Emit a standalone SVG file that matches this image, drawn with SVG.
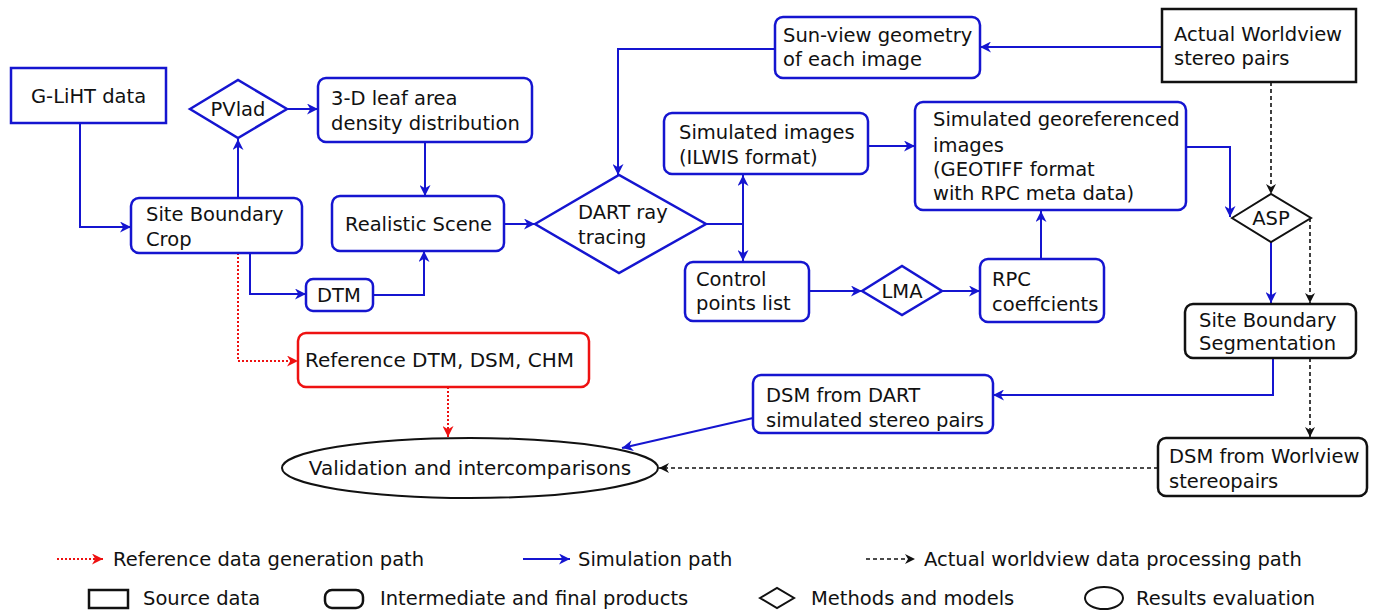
<svg xmlns="http://www.w3.org/2000/svg" width="1378" height="613" viewBox="0 0 1378 613">
<defs>
<style>
.t{font-family:"DejaVu Sans","Liberation Sans",sans-serif;font-size:19.5px;fill:#111}
.c{font-family:"DejaVu Sans","Liberation Sans",sans-serif;font-size:20px;fill:#111}
.g{font-family:"DejaVu Sans","Liberation Sans",sans-serif;font-size:19.5px;fill:#111}
.bb{fill:#fff;stroke:#1515d0;stroke-width:2.5}
.kb{fill:#fff;stroke:#111;stroke-width:2.5}
.rb{fill:#fff;stroke:#ee1111;stroke-width:2.5}
.bl{fill:none;stroke:#1515d0;stroke-width:2}
.kl{fill:none;stroke:#111;stroke-width:1.6;stroke-dasharray:4,3}
.rl{fill:none;stroke:#ee1111;stroke-width:2;stroke-dasharray:2,2}
</style>
<marker id="ab" viewBox="0 0 10 10" refX="10" refY="5" markerWidth="11" markerHeight="11" markerUnits="userSpaceOnUse" orient="auto"><path d="M0,0 L10,5 L0,10 L3,5 z" fill="#1515d0"/></marker>
<marker id="ak" viewBox="0 0 10 10" refX="10" refY="5" markerWidth="10" markerHeight="10" markerUnits="userSpaceOnUse" orient="auto"><path d="M0,0 L10,5 L0,10 L3,5 z" fill="#111"/></marker>
<marker id="ar" viewBox="0 0 10 10" refX="10" refY="5" markerWidth="11" markerHeight="11" markerUnits="userSpaceOnUse" orient="auto"><path d="M0,0 L10,5 L0,10 L3,5 z" fill="#ee1111"/></marker>
</defs>

<g id="connectors">
<path class="bl" d="M80,123 V227 H131" marker-end="url(#ab)"/>
<path class="bl" d="M238,198 V139" marker-end="url(#ab)"/>
<path class="bl" d="M287,109 H318" marker-end="url(#ab)"/>
<path class="bl" d="M425,142 V196" marker-end="url(#ab)"/>
<path class="bl" d="M250,253 V294 H306" marker-end="url(#ab)"/>
<path class="bl" d="M373,295 H424 V251" marker-end="url(#ab)"/>
<path class="bl" d="M504,224 H535" marker-end="url(#ab)"/>
<path class="bl" d="M775,49 H618 V175" marker-end="url(#ab)"/>
<path class="bl" d="M1162,47 H980" marker-end="url(#ab)"/>
<path class="bl" d="M706,224 H743"/>
<path class="bl" d="M743,224 V175" marker-end="url(#ab)"/>
<path class="bl" d="M743,224 V261" marker-end="url(#ab)"/>
<path class="bl" d="M868,146 H915" marker-end="url(#ab)"/>
<path class="bl" d="M809,291 H862" marker-end="url(#ab)"/>
<path class="bl" d="M942,291 H980" marker-end="url(#ab)"/>
<path class="bl" d="M1041,259 V211" marker-end="url(#ab)"/>
<path class="bl" d="M1186,147 H1230 V217" marker-end="url(#ab)"/>
<path class="bl" d="M1271,242 V303" marker-end="url(#ab)"/>
<path class="bl" d="M1273,358 V395 H993" marker-end="url(#ab)"/>
<path class="bl" d="M753,418 L622,448" marker-end="url(#ab)"/>
<path class="kl" d="M1271,82 V194" marker-end="url(#ak)"/>
<path class="kl" d="M1310,218 V303" marker-end="url(#ak)"/>
<path class="kl" d="M1310,358 V437" marker-end="url(#ak)"/>
<path class="kl" d="M1158,468 H659" marker-end="url(#ak)"/>
<path class="rl" d="M238,253 V361 H298" marker-end="url(#ar)"/>
<path class="rl" d="M448,387 V437" marker-end="url(#ar)"/>
</g>

<g id="glight"><rect class="bb" x="11" y="68" width="155" height="55"/><text class="t" x="31" y="103">G-LiHT data</text></g>
<g id="pvlad"><polygon class="bb" points="190,109 238,80 287,109 238,138"/><text class="t" x="238" y="116" text-anchor="middle">PVlad</text></g>
<g id="leaf"><rect class="bb" x="318" y="78" width="214" height="64" rx="8"/><text class="t" x="331" y="105">3-D leaf area</text><text class="t" x="331" y="130">density distribution</text></g>
<g id="sitecrop"><rect class="bb" x="131" y="198" width="171" height="55" rx="8"/><text class="t" x="146" y="221">Site Boundary</text><text class="t" x="146" y="246">Crop</text></g>
<g id="scene"><rect class="bb" x="332" y="196" width="172" height="55" rx="8"/><text class="t" x="345" y="231">Realistic Scene</text></g>
<g id="dtm"><rect class="bb" x="306" y="279" width="67" height="32" rx="7"/><text class="t" x="339" y="302" text-anchor="middle">DTM</text></g>
<g id="dart"><polygon class="bb" points="535,224 619,175 706,224 619,273"/><text class="t" x="578" y="219">DART ray</text><text class="t" x="578" y="244">tracing</text></g>
<g id="sunview"><rect class="bb" x="775" y="17" width="205" height="61" rx="8"/><text class="t" x="783" y="42">Sun-view geometry</text><text class="t" x="783" y="66">of each image</text></g>
<g id="worldview"><rect class="kb" x="1162" y="9" width="194" height="73"/><text class="t" x="1174" y="41">Actual Worldview</text><text class="t" x="1174" y="65">stereo pairs</text></g>
<g id="simimg"><rect class="bb" x="664" y="113" width="204" height="61" rx="8"/><text class="t" x="679" y="139">Simulated images</text><text class="t" x="679" y="164">(ILWIS format)</text></g>
<g id="simgeo"><rect class="bb" x="915" y="102" width="271" height="108" rx="8"/><text class="t" x="933" y="126">Simulated georeferenced</text><text class="t" x="933" y="152">images</text><text class="t" x="933" y="176">(GEOTIFF format</text><text class="t" x="933" y="200">with RPC meta data)</text></g>
<g id="control"><rect class="bb" x="685" y="262" width="124" height="59" rx="8"/><text class="t" x="696" y="286">Control</text><text class="t" x="696" y="310">points list</text></g>
<g id="lma"><polygon class="bb" points="862,291 902,266 942,291 902,315"/><text class="t" x="902" y="298" text-anchor="middle">LMA</text></g>
<g id="rpc"><rect class="bb" x="980" y="259" width="124" height="63" rx="8"/><text class="t" x="992" y="286">RPC</text><text class="t" x="992" y="311">coeffcients</text></g>
<g id="asp"><polygon class="kb" points="1232,218 1271,194 1311,218 1271,242" style="stroke-width:2"/><text class="t" x="1271" y="225" text-anchor="middle">ASP</text></g>
<g id="siteseg"><rect class="kb" x="1185" y="304" width="171" height="54" rx="8"/><text class="t" x="1199" y="327">Site Boundary</text><text class="t" x="1199" y="350">Segmentation</text></g>
<g id="dsmdart"><rect class="bb" x="753" y="375" width="240" height="58" rx="8"/><text class="t" x="766" y="402">DSM from DART</text><text class="t" x="766" y="427">simulated stereo pairs</text></g>
<g id="dsmwv"><rect class="kb" x="1158" y="438" width="209" height="58" rx="8"/><text class="t" x="1169" y="463">DSM from Worlview</text><text class="t" x="1169" y="488">stereopairs</text></g>
<g id="reference"><rect class="rb" x="298" y="333" width="291" height="54" rx="8"/><text class="c" x="305" y="367">Reference DTM, DSM, CHM</text></g>
<g id="validation"><ellipse class="kb" cx="470" cy="468" rx="188" ry="30" style="stroke-width:2"/><text class="c" x="470" y="475" text-anchor="middle">Validation and intercomparisons</text></g>

<g id="legend">
<path class="rl" d="M57,559 H103" marker-end="url(#ar)"/>
<text class="g" x="113" y="566">Reference data generation path</text>
<path class="bl" d="M523,559 H570" marker-end="url(#ab)"/>
<text class="g" x="578" y="566">Simulation path</text>
<path class="kl" d="M866,559 H915" marker-end="url(#ak)"/>
<text class="g" x="924" y="566">Actual worldview data processing path</text>
<rect x="89" y="590" width="39" height="18" fill="#fff" stroke="#111" stroke-width="2.5"/>
<text class="g" x="143" y="605">Source data</text>
<rect x="325" y="590" width="38" height="18" rx="7" fill="#fff" stroke="#111" stroke-width="2.5"/>
<text class="g" x="380" y="605">Intermediate and final products</text>
<polygon points="760,598 777,588 794,598 777,608" fill="#fff" stroke="#111" stroke-width="2"/>
<text class="g" x="811" y="605">Methods and models</text>
<ellipse cx="1104" cy="598" rx="19" ry="11" fill="#fff" stroke="#111" stroke-width="2"/>
<text class="g" x="1136" y="605">Results evaluation</text>
</g>
</svg>
